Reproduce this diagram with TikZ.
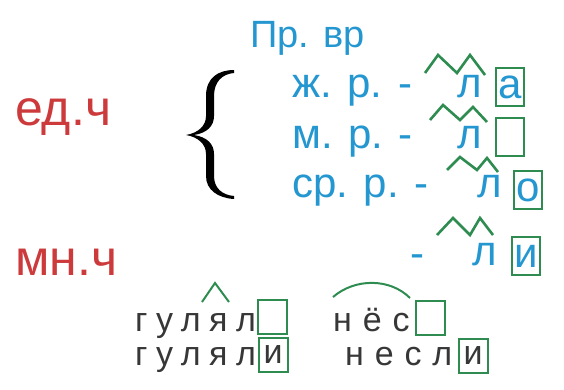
\documentclass[tikz,border=0pt]{standalone}
\usepackage{fontspec}
\setmainfont{Liberation Sans}
\usetikzlibrary{positioning}
\definecolor{numred}{RGB}{204,58,60}
\definecolor{formblue}{RGB}{36,150,208}
\definecolor{markgreen}{RGB}{46,140,80}
\definecolor{wordgray}{RGB}{55,55,55}
\newcommand{\spacedword}[2][25]{{\addfontfeature{LetterSpace=#1}#2}}

\begin{document}
\begin{tikzpicture}[x=1pt,y=-1pt,
  numlabel/.style={text=numred, font=\fontsize{50}{50}\selectfont, anchor=base west, inner sep=0},
  formlabel/.style={text=formblue, font=\fontsize{42}{42}\selectfont, anchor=base west, inner sep=0},
  endbox/.style={draw=markgreen, line width=2.2pt, minimum width=28pt, minimum height=38pt, inner sep=0, text=formblue, font=\fontsize{42}{42}\selectfont},
  wordlabel/.style={text=wordgray, font=\fontsize{34}{34}\selectfont, anchor=base west, inner sep=0},
  wordbox/.style={draw=markgreen, line width=2pt, minimum width=29pt, minimum height=34pt, inner sep=0, text=wordgray, font=\fontsize{34}{34}\selectfont},
  zig/.style={draw=markgreen, line width=2.6pt}]
    \useasboundingbox (0,0) rectangle (564,389);

    % number labels
    \node[numlabel] (sing) at (15,125) {ед.ч};
    \node[numlabel] (plur) at (15,275) {мн.ч};

    % brace
    \fill (234,70) .. controls (218,70) and (206,78) .. (206,96)
        -- (206,116) .. controls (206,126) and (198,133) .. (186,135)
        .. controls (198,137) and (206,144) .. (206,154)
        -- (206,176) .. controls (206,190) and (218,198) .. (234,199)
        -- (234,196) .. controls (222,195) and (214,188) .. (214,176)
        -- (214,154) .. controls (214,144) and (207,137) .. (194,135)
        .. controls (207,133) and (214,126) .. (214,116)
        -- (214,96) .. controls (214,82) and (222,74) .. (234,73) -- cycle;

    % past tense forms
    \node[formlabel, font=\fontsize{38}{38}\selectfont] (tense) at (250,47) {Пр. вр};
    \node[formlabel] (fem)  at (292,97)  {ж. р. -};
    \node[formlabel] (masc) at (292,148) {м. р. -};
    \node[formlabel] (neut) at (292,197) {ср. р. -};
    \node[formlabel] (pl)   at (410,267) {-};

    \node[formlabel] (l1) at (457,97)  {л};
    \node[formlabel] (l2) at (457,148) {л};
    \node[formlabel] (l3) at (477,197) {л};
    \node[formlabel] (l4) at (472,265) {л};

    \node[endbox] (e1) at (510,87)  {а};
    \node[endbox] (e2) at (510,137) {};
    \node[endbox] (e3) at (528,190) {о};
    \node[endbox] (e4) at (526,256) {и};

    % suffix marks
    \draw[zig] (425,73) -- (438,55) -- (457,73) -- (470,55) -- (485,75);
    \draw[zig] (430,120) -- (443,105) -- (460,120) -- (473,107) -- (487,122);
    \draw[zig] (447,170) -- (460,157) -- (477,170) -- (487,158) -- (498,172);
    \draw[zig] (437,235) -- (453,218) -- (470,235) -- (480,218) -- (493,235);

    % examples
    \node[wordlabel] (w1) at (135,331) {\spacedword{гулял}};
    \node[wordlabel] (w2) at (135,365) {\spacedword{гулял}};
    \node[wordlabel] (w3) at (333,331) {\spacedword[32]{нёс}};
    \node[wordlabel] (w4) at (345,365) {\spacedword[32]{несл}};

    \node[wordbox] (b1) at (272,317) {};
    \node[wordbox] (b2) at (273,355) {и};
    \node[wordbox] (b3) at (430,318) {};
    \node[wordbox] (b4) at (473,356) {и};

    \draw[markgreen, line width=2pt] (202,302) -- (215,283) -- (229,302);
    \draw[markgreen, line width=2pt] (333,297) .. controls (355,278) and (390,278) .. (410,298);
\end{tikzpicture}
\end{document}
